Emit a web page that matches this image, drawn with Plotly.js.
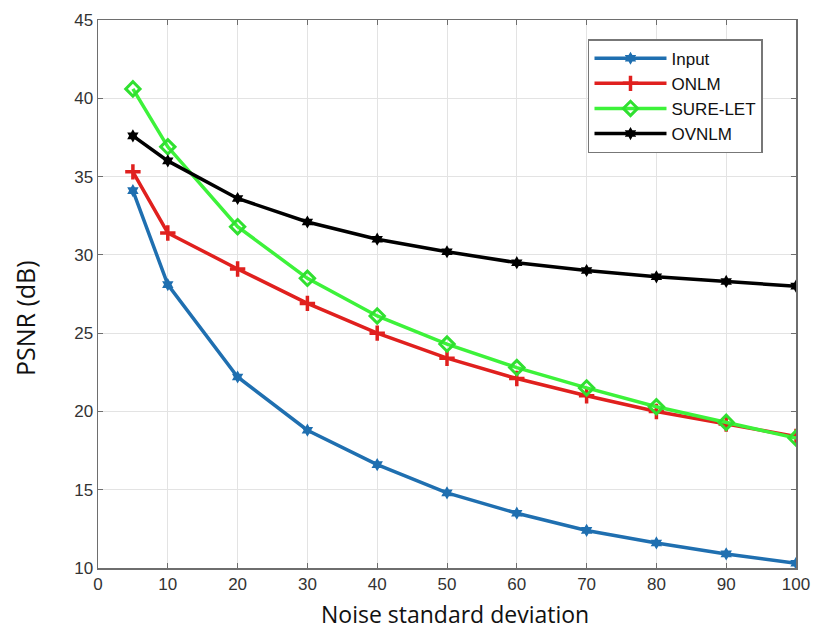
<!DOCTYPE html>
<html><head><meta charset="utf-8">
<script src="https://cdn.plot.ly/plotly-3.0.1.min.js"></script>
<style>html,body{margin:0;padding:0;background:#fff}#chart{width:817px;height:634px}</style>
</head><body><div id="chart"></div>
<script>
const noiseSigma = [5, 10, 20, 30, 40, 50, 60, 70, 80, 90, 100];
const inputPSNR  = [34.1, 28.1, 22.2, 18.8, 16.6, 14.8, 13.5, 12.4, 11.6, 10.9, 10.3];
const onlmPSNR   = [35.3, 31.4, 29.1, 26.9, 25.0, 23.4, 22.1, 21.0, 20.0, 19.2, 18.4];
const sureletPSNR= [40.6, 36.9, 31.8, 28.5, 26.1, 24.3, 22.8, 21.5, 20.3, 19.3, 18.3];
const ovnlmPSNR  = [37.6, 36.0, 33.6, 32.1, 31.0, 30.2, 29.5, 29.0, 28.6, 28.3, 28.0];
const xTicks = [0,10,20,30,40,50,60,70,80,90,100];
const yTicks = [10,15,20,25,30,35,40,45];
const xTitle = 'Noise standard deviation';
const yTitle = 'PSNR (dB)';

const traces = [
  {name:'Input', x:noiseSigma, y:inputPSNR, mode:'lines+markers',
   line:{color:'#1f6fb0', width:3.5}, marker:{symbol:'hexagram', size:10, color:'#1f6fb0'}},
  {name:'ONLM', x:noiseSigma, y:onlmPSNR, mode:'lines+markers',
   line:{color:'#e0201e', width:3.5}, marker:{symbol:'cross-thin-open', size:11, color:'#e0201e', line:{color:'#e0201e', width:3.5}}},
  {name:'SURE-LET', x:noiseSigma, y:sureletPSNR, mode:'lines+markers',
   line:{color:'#3df23a', width:3.5}, marker:{symbol:'diamond-open', size:11, color:'#30e030', line:{color:'#30e030', width:3}}},
  {name:'OVNLM', x:noiseSigma, y:ovnlmPSNR, mode:'lines+markers',
   line:{color:'#000000', width:3.5}, marker:{symbol:'hexagram', size:10, color:'#000000'}}
];

const layout = {
  width:817, height:634,
  margin:{l:98, r:21, t:20, b:66},
  paper_bgcolor:'#fff', plot_bgcolor:'#fff',
  showlegend:true,
  legend:{x:0.702, y:0.965, xanchor:'left', yanchor:'top', bgcolor:'#fff',
    bordercolor:'#777', borderwidth:1.5, tracegroupgap:0, itemwidth:72,
    font:{family:'Liberation Sans, Arial, sans-serif', size:17, color:'#111'}},
  xaxis:{range:[0,100], tickvals:xTicks, ticktext:xTicks.map(String),
    showgrid:true, gridcolor:'#e3e3e3', gridwidth:1, zeroline:false,
    showline:true, linecolor:'#6e6e6e', linewidth:1.5, mirror:'ticks',
    ticks:'inside', ticklen:5, tickcolor:'#6e6e6e',
    tickfont:{family:'Liberation Sans, Arial, sans-serif', size:17, color:'#333'}},
  yaxis:{range:[10,45], tickvals:yTicks, ticktext:yTicks.map(String),
    showgrid:true, gridcolor:'#e3e3e3', gridwidth:1, zeroline:false,
    showline:true, linecolor:'#6e6e6e', linewidth:1.5, mirror:'ticks',
    ticks:'inside', ticklen:5, tickcolor:'#6e6e6e',
    tickfont:{family:'Liberation Sans, Arial, sans-serif', size:17, color:'#333'}},
  annotations:[
    {text:xTitle, xref:'paper', yref:'paper', x:0.511, y:-0.084, xanchor:'center', yanchor:'middle',
     showarrow:false, font:{family:'Open Sans, Noto Sans, sans-serif', size:23, color:'#111'}},
    {text:yTitle, xref:'paper', yref:'paper', x:-0.1046, y:0.456, xanchor:'center', yanchor:'middle',
     textangle:-90, showarrow:false, font:{family:'Open Sans, Noto Sans, sans-serif', size:25, color:'#111'}}
  ]
};
Plotly.newPlot('chart', traces, layout, {displayModeBar:false, staticPlot:true});
</script></body></html>
